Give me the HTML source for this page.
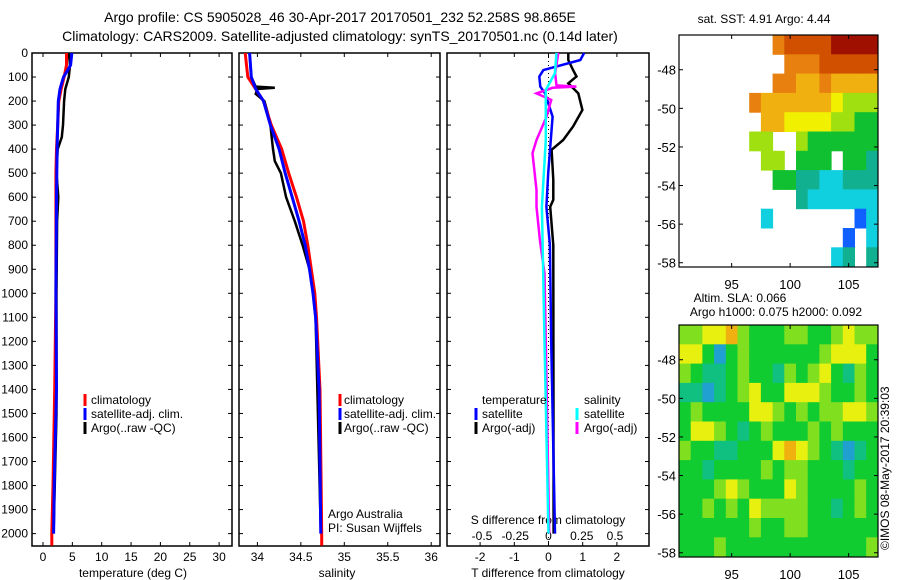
<!DOCTYPE html>
<html><head><meta charset="utf-8"><style>
html,body{margin:0;padding:0;background:#fff;}
svg{display:block;font-family:"Liberation Sans",sans-serif;}
</style></head><body>
<svg id="fig" width="900" height="580" viewBox="0 0 900 580">
<text x="340" y="22" font-size="14" text-anchor="middle">Argo profile: CS 5905028_46 30-Apr-2017 20170501_232 52.258S 98.865E</text>
<text x="340" y="41" font-size="14" text-anchor="middle">Climatology: CARS2009. Satellite-adjusted climatology: synTS_20170501.nc (0.14d later)</text>
<text x="764" y="23" font-size="12" text-anchor="middle">sat. SST: 4.91 Argo: 4.44</text>
<text x="740" y="302" font-size="12" text-anchor="middle">Altim. SLA: 0.066</text>
<text x="776" y="316" font-size="12" text-anchor="middle">Argo h1000: 0.075 h2000: 0.092</text>
<text transform="translate(889,550) rotate(-90)" font-size="12">©IMOS 08-May-2017 20:39:03</text>
</svg>
<script>
// ---------- data ----------
const depthTicks = [0,100,200,300,400,500,600,700,800,900,1000,1100,1200,1300,1400,1500,1600,1700,1800,1900,2000];
const tTicks = [0,5,10,15,20,25,30];
const sTicks = [34,34.5,35,35.5,36];
const dTTicks = [-2,-1,0,1,2];
const dSTickLabels = ['-0.5','-0.25','0','0.25','0.5'];
const dSTicks = [-0.5,-0.25,0,0.25,0.5];

const climTdepth = [0,50,100,150,200,300,400,500,700,1000,1400,1800,2000,2050];
const climT      = [4.0,4.0,3.6,3.1,2.7,2.5,2.3,2.2,2.2,2.2,2.0,1.7,1.5,1.5];
const satTdepth  = [0,50,80,100,150,200,300,400,600,1000,1400,1600,1800,2000];
const satT       = [4.9,4.7,4.0,3.5,2.9,2.6,2.5,2.4,2.3,2.2,2.3,2.1,1.9,1.8];
const argoTdepth = [0,50,100,150,200,300,350,400,500,600,700,1000,1500,2000];
const argoT      = [4.4,4.6,4.4,3.8,3.6,3.4,3.2,2.5,2.3,2.6,2.4,2.3,2.3,1.8];

const climSdepth = [0,100,200,300,400,500,600,700,800,900,1000,1100,1400,2000,2050];
const climS      = [33.86,33.89,34.07,34.16,34.28,34.36,34.45,34.53,34.58,34.62,34.66,34.68,34.72,34.74,34.74];
const satSdepth  = [0,100,150,200,300,400,500,600,700,800,900,1000,1100,1400,2000];
const satS       = [33.91,33.93,33.98,34.07,34.15,34.25,34.32,34.40,34.48,34.55,34.60,34.64,34.67,34.71,34.73];
const argoSdepth = [0,100,140,145,150,170,200,250,300,400,450,500,600,700,800,900,1000,1100,2000];
const argoS      = [33.91,33.93,33.98,34.2,34.0,33.98,34.08,34.12,34.15,34.18,34.2,34.27,34.33,34.43,34.52,34.6,34.64,34.67,34.73];

const dTsatDepth  = [0,29,71,98,140,168,265,500,640,800,1200,2000];
const dTsat       = [1.04,0.93,-0.15,-0.27,-0.24,-0.1,0.12,-0.01,-0.06,0.04,0.08,0.19];
const dTargoDepth = [0,29,71,98,126,168,237,306,362,403,528,611,640,800,2000];
const dTargo      = [0.58,0.58,0.72,0.82,0.58,0.87,0.99,0.72,0.43,0.09,0.14,0.14,0.05,0.14,0.15];
const dSargoDepth = [0,84,135,140,145,168,195,265,362,417,570,640,778,917,1200,2000];
const dSargo      = [0.074,0.05,0.06,0.21,0.03,-0.09,0.02,-0.015,-0.09,-0.12,-0.09,-0.09,-0.065,-0.03,-0.02,0.005];
const dSsatDepth  = [0,84,154,362,640,917,1200,2000];
const dSsat       = [0.06,0.048,-0.02,-0.02,-0.05,-0.04,-0.03,0.0];

const lonTicks = [95,100,105];
const latTicks = [-48,-50,-52,-54,-56,-58];
// SST colour index grid (rows lat -46.2 downward, cols lon 90.5 eastward), -1 = no data
const sstGrid = [
[-1,-1,-1,-1,-1,-1,-1,-1,7,8,8,8,8,9,9,9,9],
[-1,-1,-1,-1,-1,-1,-1,-1,-1,7,7,7,8,8,8,8,8],
[-1,-1,-1,-1,-1,-1,-1,-1,7,7,6,6,7,6,6,6,6],
[-1,-1,-1,-1,-1,-1,7,6,6,6,6,6,6,5,4,4,4],
[-1,-1,-1,-1,-1,-1,-1,6,6,5,5,5,5,4,4,3,3],
[-1,-1,-1,-1,-1,-1,4,4,-1,-1,4,3,3,3,3,3,3],
[-1,-1,-1,-1,-1,-1,-1,4,4,-1,3,3,3,-1,3,3,2],
[-1,-1,-1,-1,-1,-1,-1,-1,3,3,2,2,1,1,2,2,2],
[-1,-1,-1,-1,-1,-1,-1,-1,-1,-1,2,1,1,1,1,1,1],
[-1,-1,-1,-1,-1,-1,-1,1,-1,-1,-1,-1,-1,-1,-1,0,1],
[-1,-1,-1,-1,-1,-1,-1,-1,-1,-1,-1,-1,-1,-1,0,-1,1],
[-1,-1,-1,-1,-1,-1,-1,-1,-1,-1,-1,-1,-1,1,2,-1,2]];
const slaGrid = [
[4,4,5,5,6,4,3,3,3,4,4,3,3,4,5,4,4],
[5,5,3,1,3,4,3,3,3,3,3,3,4,5,5,5,3],
[4,3,2,2,3,4,3,3,2,4,3,4,5,3,2,4,3],
[2,2,1,2,3,4,5,3,3,5,5,5,4,3,3,4,3],
[3,4,3,3,3,3,5,5,4,3,4,3,4,4,5,5,4],
[3,5,5,4,3,2,3,4,3,3,3,4,3,4,3,3,3],
[4,3,3,2,2,3,3,3,5,6,5,4,3,2,1,2,3],
[3,3,2,3,3,3,3,4,3,4,4,3,3,3,2,3,3],
[3,3,3,4,5,4,3,3,3,5,4,3,3,3,3,4,3],
[3,3,4,3,4,3,5,4,4,4,4,3,3,2,3,4,3],
[3,3,3,3,3,3,4,3,3,4,4,3,3,3,3,3,3],
[3,3,3,4,3,3,3,3,3,3,3,3,3,3,3,3,4]];

// ---------- drawing ----------
const NS='http://www.w3.org/2000/svg';
const svg=document.getElementById('fig');
function el(tag,attrs,parent){const e=document.createElementNS(NS,tag);for(const k in attrs)e.setAttribute(k,attrs[k]);(parent||svg).appendChild(e);return e;}
const yD = d => 53 + d*0.2403;
const xT = t => 43 + t*5.87;
const xS = s => 257.4 + (s-34)*86.9;
const xDT = v => 548.5 + v*34.2;
const xDS = v => 548.5 + v*133;
const TOP=53,BOT=546;

function frame(x0,x1,name){
  const r=el('rect',{x:x0,y:TOP,width:x1-x0,height:BOT-TOP,fill:'none',stroke:'#000','stroke-width':1.5});
  
  
  depthTicks.forEach(d=>{
    el('line',{x1:x0,x2:x0+4,y1:yD(d),y2:yD(d),stroke:'#000'});
    el('line',{x1:x1,x2:x1-4,y1:yD(d),y2:yD(d),stroke:'#000'});
  });
}
function line(xs,ds,fx,color,w,name){
  const pts=xs.map((v,i)=>fx(v).toFixed(1)+','+yD(ds[i]).toFixed(1)).join(' ');
  const p=el('polyline',{points:pts,fill:'none',stroke:color,'stroke-width':w,'stroke-linejoin':'miter'});
  
  
}
function txt(x,y,s,anchor,size,name){
  const t=el('text',{x:x,y:y,'font-size':size||12,'text-anchor':anchor||'start'});
  t.textContent=s;
  
  
  return t;
}

// panel 1
frame(32,232,'temperature-panel');
depthTicks.forEach(d=>txt(28,yD(d)+4,String(d),'end',12,'depth-tick-label'));
tTicks.forEach(t=>{el('line',{x1:xT(t),x2:xT(t),y1:BOT,y2:BOT-4,stroke:'#000'});el('line',{x1:xT(t),x2:xT(t),y1:TOP,y2:TOP+4,stroke:'#000'});txt(xT(t),561,String(t),'middle',12,'temperature-tick-label');});
txt(133,577,'temperature (deg C)','middle',12,'temperature-axis-title');
line(argoT,argoTdepth,xT,'#000',2.5,'argo-temperature-line');
line(climT,climTdepth,xT,'#f00',3,'climatology-temperature-line');
line(satT,satTdepth,xT,'#00f',3,'satellite-temperature-line');

// panel 2
frame(239,440,'salinity-panel');
sTicks.forEach(s=>{el('line',{x1:xS(s),x2:xS(s),y1:BOT,y2:BOT-4,stroke:'#000'});el('line',{x1:xS(s),x2:xS(s),y1:TOP,y2:TOP+4,stroke:'#000'});txt(xS(s),561,String(s),'middle',12,'salinity-tick-label');});
txt(337,577,'salinity','middle',12,'salinity-axis-title');
line(argoS,argoSdepth,xS,'#000',2.5,'argo-salinity-line');
line(climS,climSdepth,xS,'#f00',3,'climatology-salinity-line');
line(satS,satSdepth,xS,'#00f',3,'satellite-salinity-line');

// panel 3
frame(447,649,'difference-panel');
dTTicks.forEach(t=>{el('line',{x1:xDT(t),x2:xDT(t),y1:BOT,y2:BOT-4,stroke:'#000'});el('line',{x1:xDT(t),x2:xDT(t),y1:TOP,y2:TOP+4,stroke:'#000'});txt(xDT(t),561,String(t),'middle',12,'t-difference-tick-label');});
dSTicks.forEach((s,i)=>txt(xDS(s),540,dSTickLabels[i],'middle',12,'s-difference-tick-label'));
txt(548,524,'S difference from climatology','middle',12,'s-difference-axis-title');
txt(548,577,'T difference from climatology','middle',12,'t-difference-axis-title');
el('line',{x1:548.5,x2:548.5,y1:TOP,y2:BOT,stroke:'#000','stroke-dasharray':'1,3'});
line(dTargo,dTargoDepth,xDT,'#000',2.5,'argo-t-difference-line');
line(dTsat,dTsatDepth,xDT,'#00f',2.5,'satellite-t-difference-line');
line(dSargo,dSargoDepth,xDS,'#f0f',2.5,'argo-s-difference-line');
line(dSsat,dSsatDepth,xDS,'#0ff',2.5,'satellite-s-difference-line');

// legends
function legEntry(mx,tx,y,color,label,name){
  const g=el('g',{});
  
  
  el('rect',{x:mx-1.5,y:y-10,width:3,height:12,fill:color},g);
  const t=el('text',{x:tx,y:y,'font-size':12},g);t.textContent=label;
}
[['#f00','climatology'],['#00f','satellite-adj. clim.'],['#000','Argo(..raw -QC)']].forEach((e,i)=>{
  legEntry(85,91,404+i*14,e[0],e[1],'temperature-legend-entry');
  legEntry(340,344,404+i*14,e[0],e[1],'salinity-legend-entry');
});
txt(482,404,'temperature','start',12,'difference-legend-temperature-heading');
legEntry(476,482,418,'#00f','satellite','t-satellite-legend-entry');
legEntry(476,482,432,'#000','Argo(-adj)','t-argo-legend-entry');
txt(584,404,'salinity','start',12,'difference-legend-salinity-heading');
legEntry(577,584,418,'#0ff','satellite','s-satellite-legend-entry');
legEntry(577,584,432,'#f0f','Argo(-adj)','s-argo-legend-entry');
txt(328,518,'Argo Australia','start',12,'agency-label');
txt(328,532,'PI: Susan Wijffels','start',12,'pi-label');

// maps
const mapX0=679,mapX1=878,lon0=90.5,latTop=-46.2;
const xL = lon => mapX0 + (lon-lon0)*11.7;
const sstColors=['#1060ff','#10d0e0','#10b090','#10c030','#a0e010','#f0f000','#f0b010','#e88010','#d05000','#a01000'];
const slaColors=['#1040ff','#20a0d0','#10c080','#10cc30','#80e020','#e8f010','#f0b010'];
function drawMap(grid,colors,y0,name){
  const yL = lat => y0 + (latTop-lat)*19.3;
  const g=el('g',{});
  
  
  grid.forEach((row,r)=>row.forEach((v,c)=>{
    if(v<0)return;
    const x=xL(lon0+c), y=yL(latTop-r);
    const w=Math.min(xL(lon0+c+1),mapX1)-x, h=Math.min(yL(latTop-r-1),y0+232)-y;
    const cell=el('rect',{x:x.toFixed(1),y:y.toFixed(1),width:(w+0.5).toFixed(1),height:(h+0.5).toFixed(1),fill:colors[v]},g);
    
    
  }));
  el('rect',{x:mapX0,y:y0,width:mapX1-mapX0,height:232,fill:'none',stroke:'#000','stroke-width':1.2});
  latTicks.forEach(l=>{el('line',{x1:mapX0,x2:mapX0+4,y1:yL(l),y2:yL(l),stroke:'#000'});el('line',{x1:mapX1,x2:mapX1-4,y1:yL(l),y2:yL(l),stroke:'#000'});txt(676,yL(l)+5,String(l),'end',13,'latitude-tick-label');});
  lonTicks.forEach(l=>{el('line',{x1:xL(l),x2:xL(l),y1:y0,y2:y0+4,stroke:'#000'});el('line',{x1:xL(l),x2:xL(l),y1:y0+232,y2:y0+228,stroke:'#000'});txt(xL(l),y0+254,String(l),'middle',13,'longitude-tick-label');});
}
drawMap(sstGrid,sstColors,35,'sst-map');
drawMap(slaGrid,slaColors,325,'sla-map');
</script>
</body></html>
